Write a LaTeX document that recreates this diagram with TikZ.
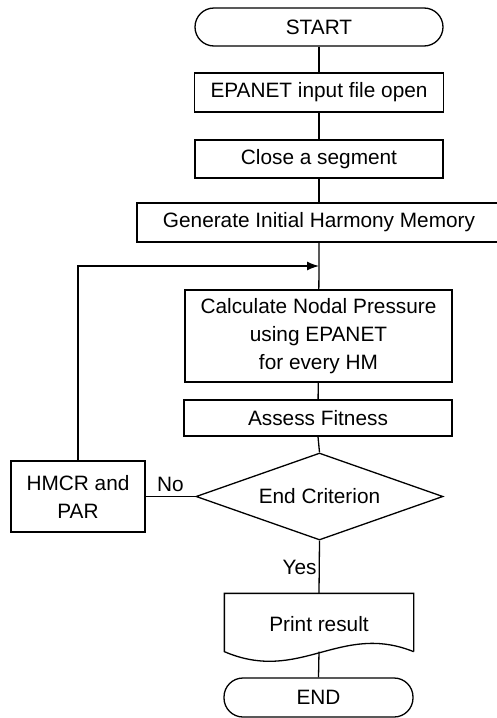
\documentclass[tikz,border=0pt]{standalone}
\usepackage{fontspec}
\setmainfont{Liberation Sans}
\usetikzlibrary{shapes.geometric,arrows.meta}
\tikzset{
	procbox/.style={draw, rectangle, inner sep=0pt, align=center},
	term/.style={draw, rectangle, rounded corners=9.5pt, inner sep=0pt},
	decide/.style={draw, diamond, inner sep=0pt, aspect=2.84},
	flow/.style={line width=0.65pt}
}

\begin{document}
\begin{tikzpicture}[x=0.5pt, y=-0.5pt, line width=0.65pt,
		every node/.style={font=\fontsize{10.4}{14}\selectfont}]
			%%%%% START %%%%%
			\useasboundingbox (0, 0) rectangle (497, 718);
			
			\node[term, minimum width=124pt, minimum height=19pt] (start) at (319, 27) {START};
			\node[procbox, minimum width=124.5pt, minimum height=19.5pt] (open) at (319, 92.5) {EPANET input file open};
			\node[procbox, minimum width=124pt, minimum height=19pt] (close) at (319, 159) {Close a segment};
			\node[procbox, minimum width=182pt, minimum height=19.5pt] (init) at (319, 222.5) {Generate Initial Harmony Memory};
			\coordinate (loop) at (319, 266);
			\node[procbox, minimum width=133.5pt, minimum height=46pt] (calc) at (318.5, 336) {Calculate Nodal Pressure\\using EPANET\\for every HM};
			\node[procbox, minimum width=134pt, minimum height=18pt] (fit) at (318, 418) {Assess Fitness};
			\node[decide, minimum width=123.5pt, minimum height=43.5pt] (crit) at (319.5, 496.5) {End Criterion};
			\node[procbox, minimum width=67pt, minimum height=35.5pt] (hmcr) at (78, 496.5) {HMCR and\\PAR};
			
			% print result (document shape)
			\node[minimum width=94pt, minimum height=28.5pt, inner sep=0pt] (print) at (319, 622.5) {};
			\draw (print.south east) -- (print.north east) -- (print.north west) -- (print.south west)
				.. controls (300, 684) and (340, 622) .. (print.south east);
			\node at (319, 624) {Print result};
			
			\node[term, minimum width=94.5pt, minimum height=19.5pt] (end) at (318.5, 697.5) {END};
			
			\draw (start) -- (open);
			\draw (open) -- (close);
			\draw (close) -- (init);
			\draw (init) -- (loop) -- (calc);
			\draw (calc) -- (fit);
			\draw (fit.south) -- (crit.north);
			\draw (crit.south) -- (print.north) node[pos=0.5, left, inner sep=1pt] {Yes};
			\draw (print.south) -- (end.north);
			
			\draw (crit.west) -- (hmcr.east) node[pos=0.5, above, inner sep=2pt] {No};
			\draw[-{Latex[length=6pt, width=4.5pt]}] (hmcr.north) |- (loop);
			%%%%% END %%%%%
\end{tikzpicture}
\end{document}
